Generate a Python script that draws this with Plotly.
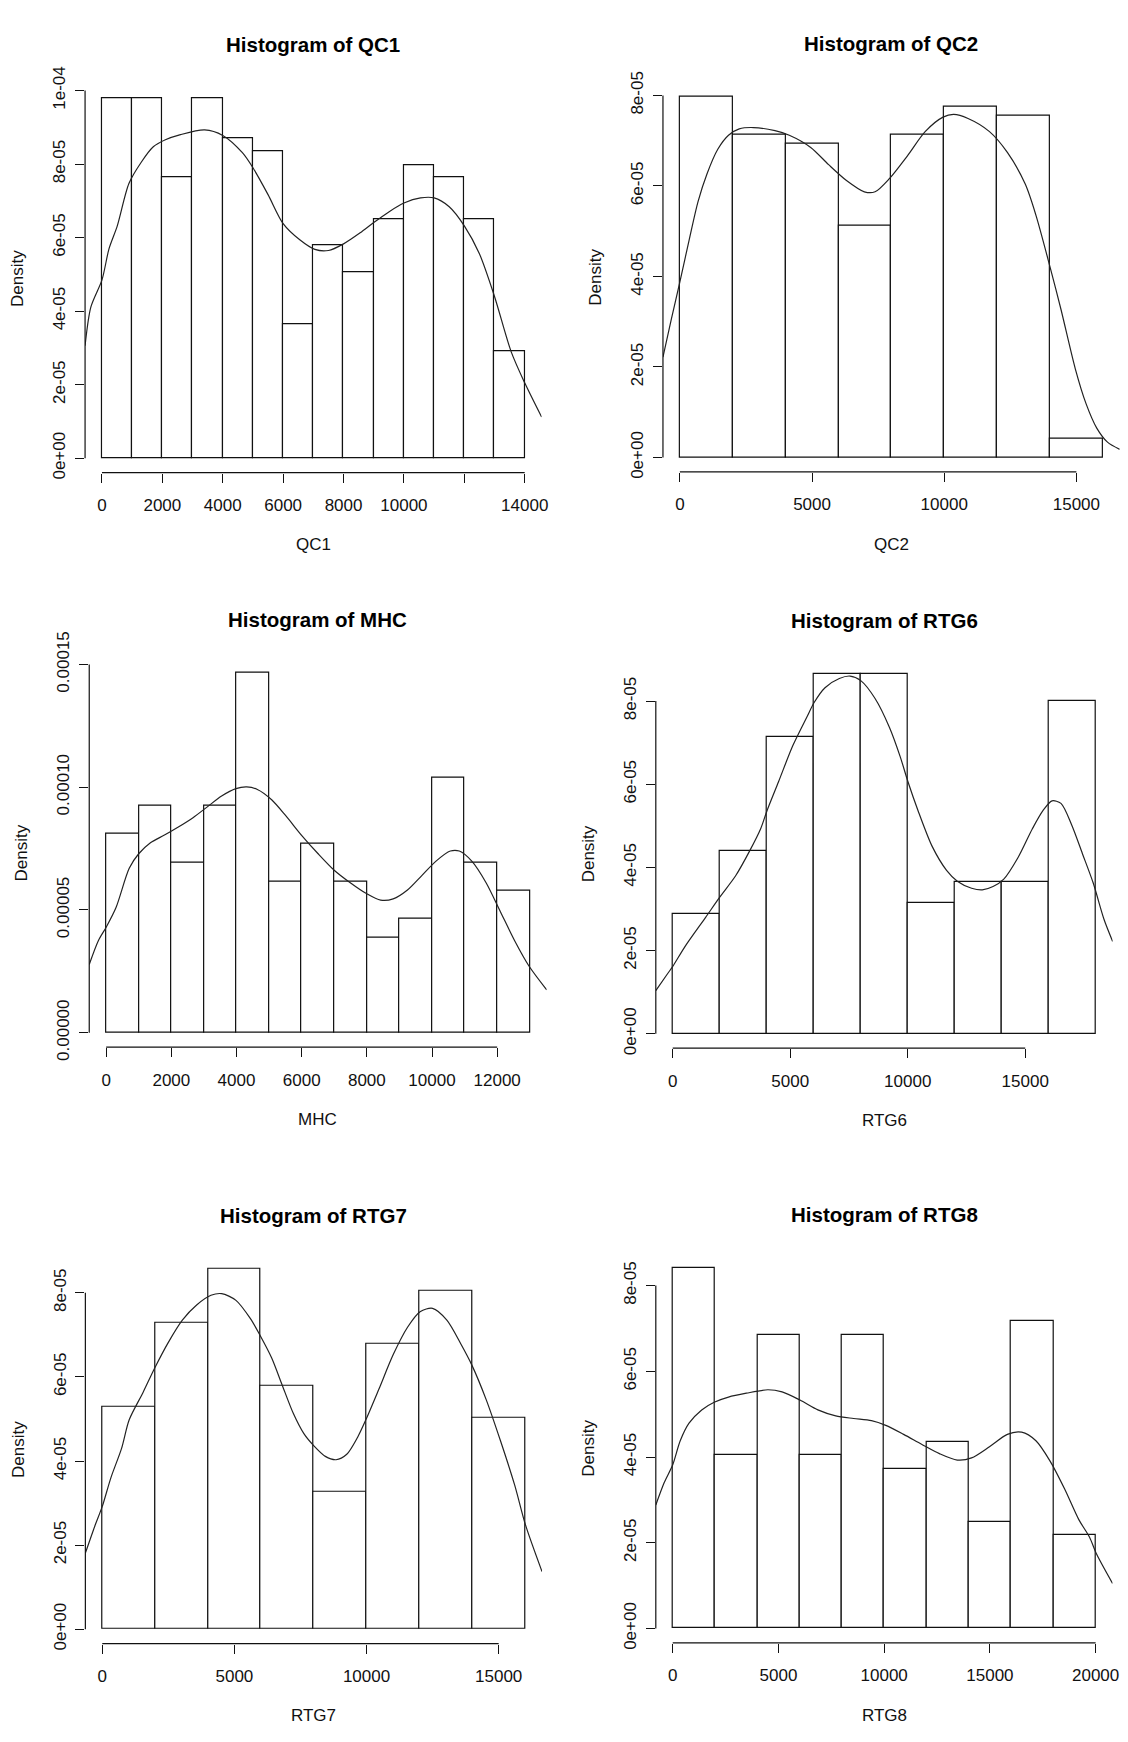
import plotly.graph_objects as go

W, H = 1128, 1742
FONT = "Liberation Sans, Arial, Helvetica, sans-serif"
INK = "#111111"

# ---------------- data ----------------
# QC1: bins of width 1000 starting at 0
qc1_breaks = [0, 1000, 2000, 3000, 4000, 5000, 6000, 7000, 8000, 9000, 10000, 11000, 12000, 13000, 14000]
qc1_density = [9.78e-5, 9.78e-5, 7.63e-5, 9.78e-5, 8.71e-5, 8.34e-5, 3.64e-5,
               5.80e-5, 5.06e-5, 6.51e-5, 7.96e-5, 7.63e-5, 6.51e-5, 2.90e-5]
qc1_kde_x = [-560, -369, 0, 234, 507, 892, 1300, 1700, 2100, 2600, 3400, 4000, 4650, 5000, 5500,
             6000, 6550, 7050, 7500, 8000, 8550, 9000, 9500, 10000, 10550, 11000, 11500, 12000,
             12500, 13000, 13550, 14000, 14560]
qc1_kde_y = [3.06e-5, 4.11e-5, 4.85e-5, 5.70e-5, 6.32e-5, 7.47e-5, 8.05e-5, 8.47e-5, 8.66e-5, 8.80e-5,
             8.93e-5, 8.78e-5, 8.31e-5, 7.90e-5, 7.17e-5, 6.38e-5, 5.94e-5, 5.68e-5, 5.65e-5,
             5.83e-5, 6.13e-5, 6.41e-5, 6.70e-5, 6.94e-5, 7.08e-5, 7.08e-5, 6.84e-5, 6.32e-5,
             5.56e-5, 4.40e-5, 2.90e-5, 2.05e-5, 1.12e-5]
qc1_xticks = [0, 2000, 4000, 6000, 8000, 10000, 12000, 14000]
qc1_xlabels = ["0", "2000", "4000", "6000", "8000", "10000", "", "14000"]
qc1_yticks = [0, 2e-5, 4e-5, 6e-5, 8e-5, 1e-4]
qc1_ylabels = ["0e+00", "2e-05", "4e-05", "6e-05", "8e-05", "1e-04"]

# QC2: bins of width 2000
qc2_breaks = [0, 2000, 4000, 6000, 8000, 10000, 12000, 14000, 16000]
qc2_density = [7.96e-5, 7.14e-5, 6.94e-5, 5.12e-5, 7.14e-5, 7.75e-5, 7.54e-5, 0.42e-5]
qc2_kde_x = [-640, -325, 0, 352, 690, 1028, 1434, 1840, 2245, 2786, 3598, 4139, 4950, 5627, 6303,
             6979, 7385, 7926, 8602, 9279, 9955, 10361, 10902, 11714, 12390, 13066, 13472, 14013,
             14419, 14960, 15366, 15772, 16177, 16640]
qc2_kde_y = [2.22e-5, 3.05e-5, 3.88e-5, 4.81e-5, 5.66e-5, 6.27e-5, 6.81e-5, 7.12e-5, 7.26e-5,
             7.29e-5, 7.22e-5, 7.12e-5, 6.85e-5, 6.47e-5, 6.12e-5, 5.87e-5, 5.87e-5, 6.16e-5,
             6.66e-5, 7.20e-5, 7.52e-5, 7.58e-5, 7.49e-5, 7.20e-5, 6.74e-5, 6.04e-5, 5.35e-5,
             4.19e-5, 3.27e-5, 1.96e-5, 1.19e-5, 0.65e-5, 0.34e-5, 0.18e-5]
qc2_xticks = [0, 5000, 10000, 15000]
qc2_xlabels = ["0", "5000", "10000", "15000"]
qc2_yticks = [0, 2e-5, 4e-5, 6e-5, 8e-5]
qc2_ylabels = ["0e+00", "2e-05", "4e-05", "6e-05", "8e-05"]

# MHC: bins of width 1000
mhc_breaks = [0, 1000, 2000, 3000, 4000, 5000, 6000, 7000, 8000, 9000, 10000, 11000, 12000, 13000]
mhc_density = [8.11e-5, 9.23e-5, 6.93e-5, 9.23e-5, 14.65e-5, 6.15e-5, 7.71e-5,
               6.15e-5, 3.87e-5, 4.64e-5, 10.38e-5, 6.93e-5, 5.79e-5]
mhc_kde_x = [-520, -241, 0, 302, 707, 998, 1349, 1788, 2227, 2665, 3104, 3543, 3982, 4311, 4640,
             5079, 5517, 6011, 6505, 6998, 7492, 7985, 8424, 8808, 9247, 9686, 10124, 10563,
             10837, 11221, 11660, 12099, 12537, 12976, 13520]
mhc_kde_y = [2.78e-5, 3.75e-5, 4.30e-5, 5.10e-5, 6.70e-5, 7.29e-5, 7.73e-5, 8.05e-5, 8.39e-5,
             8.76e-5, 9.20e-5, 9.64e-5, 9.94e-5, 10.01e-5, 9.91e-5, 9.49e-5, 8.83e-5, 8.02e-5,
             7.29e-5, 6.62e-5, 6.11e-5, 5.67e-5, 5.40e-5, 5.45e-5, 5.81e-5, 6.40e-5, 6.99e-5,
             7.40e-5, 7.40e-5, 6.99e-5, 6.11e-5, 4.93e-5, 3.75e-5, 2.72e-5, 1.75e-5]
mhc_xticks = [0, 2000, 4000, 6000, 8000, 10000, 12000]
mhc_xlabels = ["0", "2000", "4000", "6000", "8000", "10000", "12000"]
mhc_yticks = [0, 5e-5, 10e-5, 15e-5]
mhc_ylabels = ["0.00000", "0.00005", "0.00010", "0.00015"]

# RTG6: bins of width 2000
rtg6_breaks = [0, 2000, 4000, 6000, 8000, 10000, 12000, 14000, 16000, 18000]
rtg6_density = [2.89e-5, 4.40e-5, 7.13e-5, 8.64e-5, 8.64e-5, 3.14e-5, 3.65e-5, 3.65e-5, 8.00e-5]
rtg6_kde_x = [-720, -213, 0, 548, 1400, 1993, 2677, 3286, 3742, 4016, 4503, 5112, 5720, 6024, 6480,
              7089, 7546, 8002, 8610, 9219, 9675, 10010, 10436, 11045, 11653, 12109, 12718, 13174,
              13630, 14087, 14695, 15304, 15760, 16140, 16521, 16977, 17434, 17890, 18347, 18720]
rtg6_kde_y = [1.04e-5, 1.45e-5, 1.62e-5, 2.12e-5, 2.80e-5, 3.28e-5, 3.80e-5, 4.41e-5, 4.93e-5,
              5.37e-5, 6.06e-5, 6.93e-5, 7.63e-5, 7.97e-5, 8.32e-5, 8.54e-5, 8.60e-5, 8.49e-5,
              8.06e-5, 7.37e-5, 6.67e-5, 6.06e-5, 5.37e-5, 4.50e-5, 3.93e-5, 3.67e-5, 3.50e-5,
              3.46e-5, 3.54e-5, 3.72e-5, 4.24e-5, 4.93e-5, 5.37e-5, 5.60e-5, 5.54e-5, 5.02e-5,
              4.33e-5, 3.63e-5, 2.76e-5, 2.22e-5]
rtg6_xticks = [0, 5000, 10000, 15000]
rtg6_xlabels = ["0", "5000", "10000", "15000"]
rtg6_yticks = [0, 2e-5, 4e-5, 6e-5, 8e-5]
rtg6_ylabels = ["0e+00", "2e-05", "4e-05", "6e-05", "8e-05"]

# RTG7: bins of width 2000
rtg7_breaks = [0, 2000, 4000, 6000, 8000, 10000, 12000, 14000, 16000]
rtg7_density = [5.29e-5, 7.29e-5, 8.56e-5, 5.79e-5, 3.27e-5, 6.78e-5, 8.05e-5, 5.02e-5]
rtg7_kde_x = [-640, -284, 0, 325, 730, 1019, 1542, 1975, 2489, 3030, 3571, 4112, 4518, 5059, 5600,
              5978, 6411, 6817, 7223, 7629, 8008, 8440, 8846, 9252, 9658, 9996, 10469, 11010,
              11551, 12025, 12498, 13039, 13580, 13986, 14527, 15068, 15609, 16015, 16640]
rtg7_kde_y = [1.81e-5, 2.45e-5, 2.92e-5, 3.60e-5, 4.30e-5, 4.98e-5, 5.63e-5, 6.20e-5, 6.81e-5,
              7.35e-5, 7.71e-5, 7.94e-5, 7.98e-5, 7.82e-5, 7.39e-5, 6.98e-5, 6.45e-5, 5.79e-5,
              5.14e-5, 4.65e-5, 4.36e-5, 4.11e-5, 4.03e-5, 4.16e-5, 4.56e-5, 5.01e-5, 5.71e-5,
              6.53e-5, 7.18e-5, 7.55e-5, 7.63e-5, 7.35e-5, 6.77e-5, 6.28e-5, 5.46e-5, 4.48e-5,
              3.42e-5, 2.48e-5, 1.37e-5]
rtg7_xticks = [0, 5000, 10000, 15000]
rtg7_xlabels = ["0", "5000", "10000", "15000"]
rtg7_yticks = [0, 2e-5, 4e-5, 6e-5, 8e-5]
rtg7_ylabels = ["0e+00", "2e-05", "4e-05", "6e-05", "8e-05"]

# RTG8: bins of width 2000
rtg8_breaks = [0, 2000, 4000, 6000, 8000, 10000, 12000, 14000, 16000, 18000, 20000]
rtg8_density = [8.40e-5, 4.05e-5, 6.84e-5, 4.05e-5, 6.84e-5, 3.73e-5, 4.35e-5, 2.49e-5, 7.17e-5, 2.18e-5]
rtg8_kde_x = [-800, -406, 0, 355, 771, 1369, 1961, 2637, 3483, 4497, 5173, 6018, 6864, 7709, 8554,
              9400, 10076, 10921, 11767, 12612, 13457, 14133, 14979, 15824, 16500, 17176, 17853,
              18529, 19205, 19712, 20050, 20800]
rtg8_kde_y = [2.88e-5, 3.40e-5, 3.82e-5, 4.38e-5, 4.79e-5, 5.10e-5, 5.28e-5, 5.40e-5, 5.49e-5,
              5.57e-5, 5.52e-5, 5.33e-5, 5.10e-5, 4.96e-5, 4.90e-5, 4.85e-5, 4.74e-5, 4.53e-5,
              4.30e-5, 4.08e-5, 3.93e-5, 3.98e-5, 4.24e-5, 4.53e-5, 4.58e-5, 4.38e-5, 3.90e-5,
              3.26e-5, 2.54e-5, 2.13e-5, 1.73e-5, 1.05e-5]
rtg8_xticks = [0, 5000, 10000, 15000, 20000]
rtg8_xlabels = ["0", "5000", "10000", "15000", "20000"]
rtg8_yticks = [0, 2e-5, 4e-5, 6e-5, 8e-5]
rtg8_ylabels = ["0e+00", "2e-05", "4e-05", "6e-05", "8e-05"]

# ---------------- panel layout (pixel boxes of each plot region) ----------------
panels = [
    dict(name="QC1", breaks=qc1_breaks, dens=qc1_density, kx=qc1_kde_x, ky=qc1_kde_y,
         xt=qc1_xticks, xl=qc1_xlabels, yt=qc1_yticks, yl=qc1_ylabels, box=(85.6, 545.0, 58.6, 456.1)),
    dict(name="QC2", breaks=qc2_breaks, dens=qc2_density, kx=qc2_kde_x, ky=qc2_kde_y,
         xt=qc2_xticks, xl=qc2_xlabels, yt=qc2_yticks, yl=qc2_ylabels, box=(667.1, 1126.7, 57.1, 455.4)),
    dict(name="MHC", breaks=mhc_breaks, dens=mhc_density, kx=mhc_kde_x, ky=mhc_kde_y,
         xt=mhc_xticks, xl=mhc_xlabels, yt=mhc_yticks, yl=mhc_ylabels, box=(89.8, 550.1, 646.5, 1044.1)),
    dict(name="RTG6", breaks=rtg6_breaks, dens=rtg6_density, kx=rtg6_kde_x, ky=rtg6_kde_y,
         xt=rtg6_xticks, xl=rtg6_xlabels, yt=rtg6_yticks, yl=rtg6_ylabels, box=(659.9, 1119.6, 647.9, 1045.2)),
    dict(name="RTG7", breaks=rtg7_breaks, dens=rtg7_density, kx=rtg7_kde_x, ky=rtg7_kde_y,
         xt=rtg7_xticks, xl=rtg7_xlabels, yt=rtg7_yticks, yl=rtg7_ylabels, box=(85.9, 545.4, 1256.7, 1654.6)),
    dict(name="RTG8", breaks=rtg8_breaks, dens=rtg8_density, kx=rtg8_kde_x, ky=rtg8_kde_y,
         xt=rtg8_xticks, xl=rtg8_xlabels, yt=rtg8_yticks, yl=rtg8_ylabels, box=(659.9, 1119.5, 1255.9, 1653.9)),
]

fig = go.Figure()
layout = dict(width=W, height=H, margin=dict(l=0, r=0, t=0, b=0),
              paper_bgcolor="white", plot_bgcolor="white", showlegend=False,
              bargap=0, font=dict(family=FONT, size=17, color=INK))
shapes, annotations = [], []

for i, p in enumerate(panels):
    k = "" if i == 0 else str(i + 1)
    xa, ya = "x" + k, "y" + k
    left, right, top, bottom = p["box"]

    br = p["breaks"]
    centers = [(a + b) / 2 for a, b in zip(br[:-1], br[1:])]
    widths = [b - a for a, b in zip(br[:-1], br[1:])]

    # histogram bars
    fig.add_trace(go.Bar(x=centers, y=p["dens"], width=widths, xaxis=xa, yaxis=ya,
                         marker=dict(color="white", line=dict(color=INK, width=1.2)),
                         hoverinfo="skip"))
    # density curve
    fig.add_trace(go.Scatter(x=p["kx"], y=p["ky"], mode="lines", xaxis=xa, yaxis=ya,
                             line=dict(color="#222222", width=1.2, shape="spline", smoothing=0.8),
                             hoverinfo="skip"))

    # ranges padded by 4% like base graphics
    x0, x1 = br[0], br[-1]
    xr = [x0 - 0.04 * (x1 - x0), x1 + 0.04 * (x1 - x0)]
    ymax = max(p["dens"])
    yr = [-0.04 * ymax, 1.04 * ymax]

    common = dict(showgrid=False, zeroline=False, showline=False, ticks="outside",
                  ticklen=9, tickwidth=1.2, tickcolor=INK, tickmode="array",
                  tickfont=dict(family=FONT, size=17, color=INK), fixedrange=True)
    layout["xaxis" + k] = dict(common, domain=[left / W, right / W], range=xr,
                               anchor=ya, tickvals=p["xt"], ticktext=p["xl"],
                               ticklabelstandoff=8)
    layout["yaxis" + k] = dict(common, domain=[1 - bottom / H, 1 - top / H], range=yr,
                               anchor=xa, tickvals=p["yt"], ticktext=p["yl"],
                               tickangle=-90, ticklabelstandoff=3)

    # axis lines spanning first to last tick
    shapes.append(dict(type="line", xref=xa, yref=ya + " domain", x0=p["xt"][0], x1=p["xt"][-1],
                       y0=0, y1=0, line=dict(color=INK, width=1.2)))
    shapes.append(dict(type="line", xref=xa + " domain", yref=ya, x0=0, x1=0,
                       y0=p["yt"][0], y1=p["yt"][-1], line=dict(color=INK, width=1.2)))

    cx = (left + right) / 2
    annotations.append(dict(text="<b>Histogram of %s</b>" % p["name"], xref="paper", yref="paper",
                            x=cx / W, y=1 - (top - 40.5) / H, xanchor="center", yanchor="middle",
                            showarrow=False, font=dict(family=FONT, size=20.5, color="#000")))
    annotations.append(dict(text=p["name"], xref="paper", yref="paper",
                            x=cx / W, y=1 - (bottom + 74) / H, xanchor="center", yanchor="middle",
                            showarrow=False, font=dict(family=FONT, size=17, color=INK)))
    annotations.append(dict(text="Density", xref="paper", yref="paper", textangle=-90,
                            x=(left - 68) / W, y=1 - ((top + bottom) / 2) / H,
                            xanchor="center", yanchor="middle",
                            showarrow=False, font=dict(family=FONT, size=17, color=INK)))

layout["shapes"] = shapes
layout["annotations"] = annotations
fig.update_layout(**layout)
fig.write_html("out.html")
